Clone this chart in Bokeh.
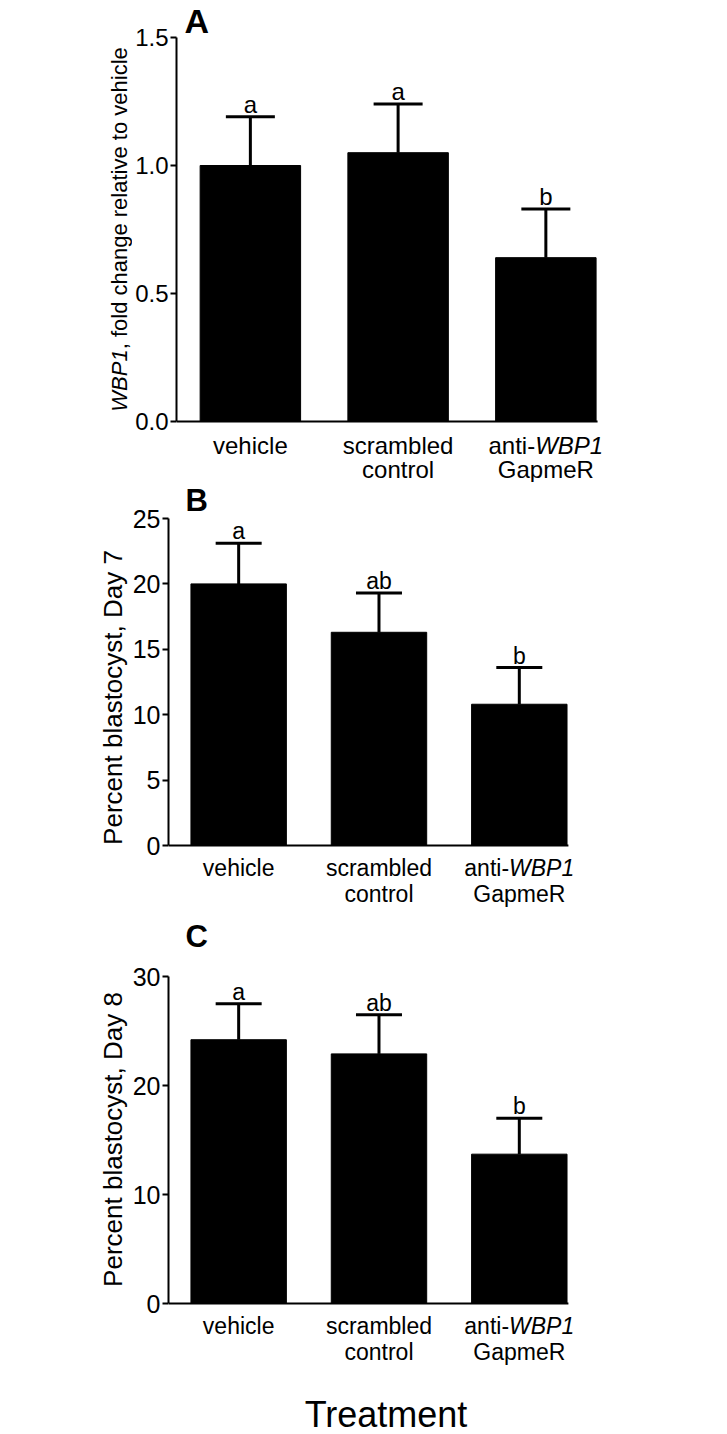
import math
from bokeh.plotting import figure
from bokeh.models import (Range1d, FixedTicker, NumeralTickFormatter, Label,
                          Whisker, TeeHead, ColumnDataSource)
from bokeh.layouts import column, row
from bokeh.embed import file_html
from bokeh.resources import INLINE
from bokeh.core.properties import value

# ---------------- data ----------------
categories = ["vehicle", "scrambled control", "anti-WBP1 GapmeR"]
cat_line1 = ["vehicle", "scrambled", "anti-"]
cat_line1_italic = ["", "", "WBP1"]
cat_line2 = ["", "control", "GapmeR"]

wbp1_fold = [1.00, 1.05, 0.64]
wbp1_err = [0.19, 0.19, 0.19]
letters_wbp1 = ["a", "a", "b"]
yticks_wbp1 = [0.0, 0.5, 1.0, 1.5]

day7_pct = [20.0, 16.3, 10.8]
day7_err = [3.1, 3.0, 2.8]
letters_day7 = ["a", "ab", "b"]
yticks_day7 = [0, 5, 10, 15, 20, 25]

day8_pct = [24.2, 22.9, 13.7]
day8_err = [3.3, 3.6, 3.3]
letters_day8 = ["a", "ab", "b"]
yticks_day8 = [0, 10, 20, 30]

FONT = "Liberation Sans"
MID = 0.35  # distance (in em) from the alphabetic baseline up to a "middle" anchor
AX_START, AX_END, X_END = -0.5, 2.35, 2.6  # x axis line spans AX_START..AX_END


def lab(**kw):
    base = dict(text_font=FONT, text_color="black", text_baseline="middle")
    base.update(kw)
    return Label(**base)


def make_panel(vals, errs, letters, yticks, fmt, axis_px, frame_h, top_pad,
               data_h, border_l, tick_fs, ytick_fs, letter_fs, cap,
               panel_letter, panel_fs, panel_x, panel_base, base1, base2,
               ylabel=None, ylabel_fs=26):
    """top_pad: px from frame top to ymax; data_h: px from ymax to 0;
    panel_base: baseline of the panel letter from frame top;
    base1 / base2: baselines of the category label lines below the axis."""
    ymax = yticks[-1]
    ppu = data_h / ymax
    bottom_pad = frame_h - top_pad - data_h
    y_start = -bottom_pad / ppu
    y_end = ymax + top_pad / ppu
    frame_w = round(axis_px * (X_END - AX_START) / (AX_END - AX_START))

    xs = list(range(len(vals)))
    upper = [v + e for v, e in zip(vals, errs)]
    src = ColumnDataSource(dict(x=xs, top=vals, upper=upper, letters=letters))

    p = figure(frame_width=frame_w, frame_height=frame_h,
               x_range=Range1d(AX_START, X_END), y_range=Range1d(y_start, y_end),
               output_backend="svg", toolbar_location=None, min_border=0,
               min_border_left=border_l)
    p.outline_line_color = None
    p.grid.visible = False

    p.vbar(x="x", top="top", width=0.68, bottom=0, source=src,
           fill_color="black", line_color="black")

    p.add_layout(Whisker(base="x", lower="top", upper="upper", source=src,
                         line_width=3, line_color="black",
                         upper_head=TeeHead(size=cap, line_width=3,
                                            line_color="black"),
                         lower_head=None))

    p.text(x="x", y="upper", text="letters", source=src,
           text_font=value(FONT), text_font_size=f"{letter_fs}px",
           text_align="center", text_baseline="middle",
           y_offset=-(4 + MID * letter_fs), text_color="black")

    # x axis line at zero
    p.segment(x0=[AX_START], y0=[0], x1=[AX_END], y1=[0], line_width=2,
              line_color="black")
    p.xaxis.visible = False
    p.xaxis.bounds = (AX_START, AX_END)

    # y axis
    p.yaxis.bounds = (0, ymax)
    p.yaxis.ticker = FixedTicker(ticks=yticks)
    p.yaxis.formatter = NumeralTickFormatter(format=fmt)
    p.yaxis.major_tick_out = 6
    p.yaxis.major_tick_in = 0
    p.yaxis.major_tick_line_width = 2
    p.yaxis.major_tick_line_color = "black"
    p.yaxis.minor_tick_line_color = None
    p.yaxis.axis_line_width = 2
    p.yaxis.axis_line_color = "black"
    p.yaxis.major_label_text_font = FONT
    p.yaxis.major_label_text_font_size = f"{ytick_fs}px"
    p.yaxis.major_label_text_color = "black"
    p.yaxis.major_label_standoff = 2
    if ylabel is not None:
        p.yaxis.axis_label = ylabel
        p.yaxis.axis_label_text_font = FONT
        p.yaxis.axis_label_text_font_size = f"{ylabel_fs}px"
        p.yaxis.axis_label_text_font_style = "normal"
        p.yaxis.axis_label_text_color = "black"
        p.yaxis.axis_label_standoff = 2

    # category labels below the axis (screen y measured up from frame bottom)
    y1 = bottom_pad - base1 + MID * tick_fs
    y2 = bottom_pad - base2 + MID * tick_fs
    for i in xs:
        if cat_line1_italic[i]:
            shift = -0.445 * tick_fs  # centres "anti-" + italic "WBP1"
            p.add_layout(lab(x=i, y=y1, y_units="screen", x_offset=shift,
                             text=cat_line1[i], text_font_size=f"{tick_fs}px",
                             text_align="right"))
            p.add_layout(lab(x=i, y=y1, y_units="screen", x_offset=shift,
                             text=cat_line1_italic[i],
                             text_font_size=f"{tick_fs}px",
                             text_font_style="italic", text_align="left"))
        else:
            p.add_layout(lab(x=i, y=y1, y_units="screen", text=cat_line1[i],
                             text_font_size=f"{tick_fs}px", text_align="center"))
        if cat_line2[i]:
            p.add_layout(lab(x=i, y=y2, y_units="screen", text=cat_line2[i],
                             text_font_size=f"{tick_fs}px", text_align="center"))

    # panel letter
    p.add_layout(lab(x=panel_x, y=frame_h - panel_base + MID * panel_fs,
                     x_units="screen", y_units="screen", text=panel_letter,
                     text_font_size=f"{panel_fs}px", text_font_style="bold",
                     text_align="left"))
    return p


# ---- panel A ----
A_H = 482
pA = make_panel(wbp1_fold, wbp1_err, letters_wbp1, yticks_wbp1, "0.0",
                421, A_H, 37, 384, 43, 24, 24, 24, 49, "A", 34, 8, 32, 32, 56)

# y label of panel A (italic gene name) in a narrow companion figure
fsA = 22
w_gene = 2.834 * fsA
w_total = 16.56 * fsA
labA = figure(frame_width=132, frame_height=A_H, x_range=Range1d(0, 1),
              y_range=Range1d(0, 1), x_axis_type=None, y_axis_type=None,
              output_backend="svg", toolbar_location=None, min_border=0)
labA.outline_line_color = None
labA.grid.visible = False
y_mid_axis = A_H - (37 + 384 / 2)
y_start_txt = y_mid_axis - w_total / 2
x_txt = 127 - MID * fsA
labA.add_layout(lab(x=x_txt, y=y_start_txt, x_units="screen", y_units="screen",
                    angle=math.pi / 2, text="WBP1", text_font_size=f"{fsA}px",
                    text_font_style="italic", text_align="left"))
labA.add_layout(lab(x=x_txt, y=y_start_txt + w_gene, x_units="screen",
                    y_units="screen", angle=math.pi / 2,
                    text=", fold change relative to vehicle",
                    text_font_size=f"{fsA}px", text_align="left"))

# ---- panel B ----  (canvas 482 .. 912)
pB = make_panel(day7_pct, day7_err, letters_day7, yticks_day7, "0",
                400, 430, 36, 327, 168, 23, 25, 23, 46, "B", 31, 17, 29, 31, 57,
                ylabel="Percent blastocyst, Day 7")

# ---- panel C ----  (canvas 912 .. 1366, then Treatment axis label)
pC = make_panel(day8_pct, day8_err, letters_day8, yticks_day8, "0",
                400, 454, 64, 327, 168, 23, 25, 23, 46, "C", 31, 17, 35, 31, 57,
                ylabel="Percent blastocyst, Day 8")
pC.xaxis.visible = True
pC.xaxis.ticker = FixedTicker(ticks=[])
pC.xaxis.axis_line_color = None
pC.xaxis.major_tick_line_color = None
pC.xaxis.minor_tick_line_color = None
pC.xaxis.major_tick_out = 0
pC.xaxis.major_label_text_font_size = "0px"
pC.xaxis.major_label_standoff = 0
pC.xaxis.axis_label = "Treatment"
pC.xaxis.axis_label_text_font = FONT
pC.xaxis.axis_label_text_font_size = "36px"
pC.xaxis.axis_label_text_font_style = "normal"
pC.xaxis.axis_label_text_color = "black"
pC.xaxis.axis_label_standoff = 27

layout = column(row(labA, pA), pB, pC, spacing=0)
open("out.html", "w").write(file_html(layout, INLINE))
